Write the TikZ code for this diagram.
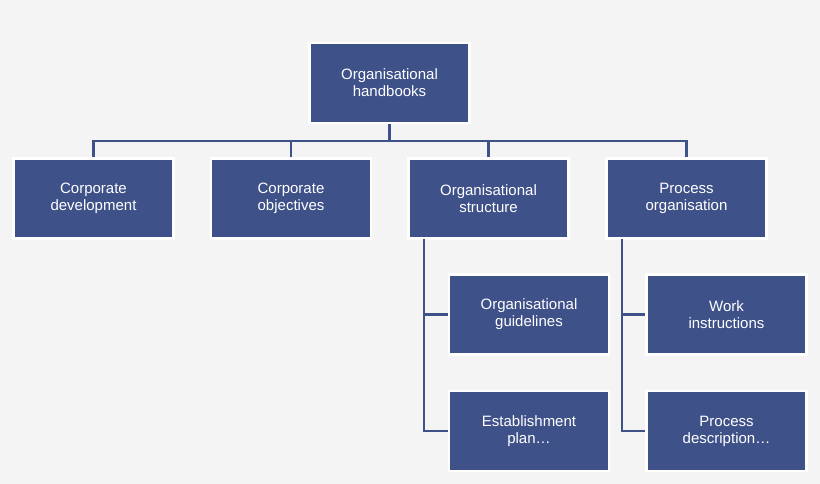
\documentclass[tikz,border=0pt]{standalone}
\usepackage{fontspec}
\setmainfont{Liberation Sans}
\definecolor{bx}{RGB}{63,81,137}
\definecolor{bg}{RGB}{244,244,244}
\begin{document}
\begin{tikzpicture}[x=1pt,y=-1pt,
 box/.style={draw=white,line width=2.5pt,fill=bx,text=white,
   minimum width=160pt,minimum height=80pt,align=center,font=\fontsize{15}{17}\selectfont,inner sep=0pt},
 ln/.style={draw=bx,line width=2.5pt}]
\fill[bg] (0,0) rectangle (820,484);
\node[box] (top) at (389.5,83) {Organisational\\handbooks};
\node[box] (a) at (93.5,198.5) {Corporate\\development};
\node[box] (b) at (291,198.5) {Corporate\\objectives};
\node[box] (c) at (488.5,198.5) {Organisational\\structure};
\node[box] (d) at (686.5,198.5) {Process\\organisation};
\node[box] (c1) at (529,314.5) {Organisational\\guidelines};
\node[box] (c2) at (529,431) {Establishment\\plan\ldots};
\node[box] (d1) at (726.5,314.5) {Work\\instructions};
\node[box] (d2) at (726.5,431) {Process\\description\ldots};
\coordinate (j) at (389.5,141);
\draw[ln] (top.south) -- (j);
\draw[ln] (a.north) |- (j) -| (d.north);
\draw[ln] (b.north) -- (b.north |- j);
\draw[ln] (c.north) -- (c.north |- j);
\coordinate (cv) at (424,239);
\coordinate (dv) at (622,239);
\draw[ln] (cv) |- (c2.west);
\draw[ln] (cv |- c1.west) -- (c1.west);
\draw[ln] (dv) |- (d2.west);
\draw[ln] (dv |- d1.west) -- (d1.west);
\end{tikzpicture}
\end{document}
